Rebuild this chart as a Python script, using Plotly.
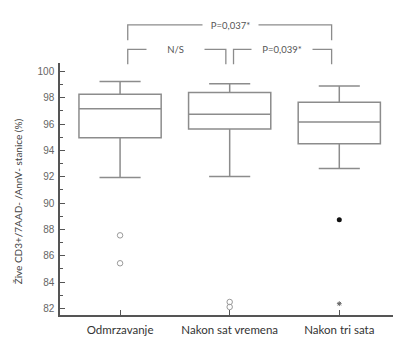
import plotly.graph_objects as go

categories = ["Odmrzavanje", "Nakon sat vremena", "Nakon tri sata"]
lower_whisker = [91.94, 92.01, 92.63]
q1 = [94.96, 95.63, 94.51]
median = [97.16, 96.74, 96.16]
q3 = [98.26, 98.39, 97.66]
upper_whisker = [99.23, 99.06, 98.89]

outlier_open_x = ["Odmrzavanje", "Odmrzavanje", "Nakon sat vremena", "Nakon sat vremena"]
outlier_open_y = [87.55, 85.43, 82.49, 82.11]
extreme_dot_x = ["Nakon tri sata"]
extreme_dot_y = [88.73]
extreme_star_x = ["Nakon tri sata"]
extreme_star_y = [82.36]

comparisons = [
    # (left idx, right idx, label)
    (0, 2, "P=0,037*"),
    (0, 1, "N/S"),
    (1, 2, "P=0,039*"),
]

Y_RANGE = [81.5, 100.64]
X_RANGE = [-0.548, 2.49]

BOX_COLOR = "#8c8c8c"
AXIS_COLOR = "#555555"

fig = go.Figure()
for i, c in enumerate(categories):
    fig.add_trace(go.Box(
        x=[c], q1=[q1[i]], median=[median[i]], q3=[q3[i]],
        lowerfence=[lower_whisker[i]], upperfence=[upper_whisker[i]],
        boxpoints=False, width=0.75, whiskerwidth=0.5,
        line=dict(color=BOX_COLOR, width=1.5), fillcolor="white",
        showlegend=False, hoverinfo="skip",
    ))

fig.add_trace(go.Scatter(
    x=outlier_open_x, y=outlier_open_y, mode="markers",
    marker=dict(symbol="circle-open", size=5.5, color="#9a9a9a", line=dict(width=1)),
    showlegend=False, cliponaxis=False,
))
fig.add_trace(go.Scatter(
    x=extreme_dot_x, y=extreme_dot_y, mode="markers",
    marker=dict(symbol="circle", size=5, color="#111111"),
    showlegend=False, cliponaxis=False,
))
fig.add_trace(go.Scatter(
    x=extreme_star_x, y=extreme_star_y, mode="markers",
    marker=dict(symbol="asterisk-open", size=4, color="#666666", line=dict(width=1)),
    showlegend=False, cliponaxis=False,
))


def to_paper(v):
    return (v - Y_RANGE[0]) / (Y_RANGE[1] - Y_RANGE[0])


# bracket geometry (data units on y)
levels = {
    (0, 2): (103.54, 102.36, 0.07, 1.93, 1.006, 53),
    (0, 1): (101.67, 100.54, 0.07, 0.965, 0.502, 55),
    (1, 2): (101.67, 100.54, 1.035, 1.93, 1.475, 58),
}

shapes = []
annotations = []
for a, b, label in comparisons:
    top, leg, x0, x1, xt, gap = levels[(a, b)]
    shapes.append(dict(
        type="path", xref="x", yref="paper",
        path=f"M {x0},{to_paper(leg)} L {x0},{to_paper(top)} L {x1},{to_paper(top)} L {x1},{to_paper(leg)}",
        line=dict(color="#8c8c8c", width=1.3),
    ))
    annotations.append(dict(
        x=xt, y=to_paper(top), xref="x", yref="paper", text=label, showarrow=False,
        font=dict(family="Lato, Arial", size=9.5, color="#555555"),
        bgcolor="white", width=gap, height=12, xanchor="center", yanchor="middle",
    ))

annotations.append(dict(
    x=(18 - 60) / (393 - 60), y=(318 - 203) / (318 - 63), xref="paper", yref="paper",
    text="Žive CD3+/7AAD- /AnnV- stanice (%)",
    showarrow=False, textangle=-90,
    font=dict(family="Lato, Arial", size=10, color="#444444"),
    xanchor="center", yanchor="middle",
))

fig.update_layout(
    width=395, height=338,
    margin=dict(l=60, r=2, t=63, b=20),
    paper_bgcolor="white", plot_bgcolor="white",
    shapes=shapes, annotations=annotations,
    xaxis=dict(
        type="category", range=X_RANGE, showline=True, linecolor=AXIS_COLOR, linewidth=1.5,
        ticks="inside", ticklen=5, tickcolor=AXIS_COLOR, tickwidth=1.2,
        showgrid=False, zeroline=False, ticklabelstandoff=3,
        tickfont=dict(family="Lato, Arial", size=11.5, color="#333333"),
    ),
    yaxis=dict(
        range=Y_RANGE, showline=True, linecolor=AXIS_COLOR, linewidth=1.5,
        tickvals=list(range(82, 101, 2)), ticks="inside", ticklen=5,
        tickcolor=AXIS_COLOR, tickwidth=1.2, ticklabelstandoff=2,
        minor=dict(dtick=1, tick0=81, ticks="inside", ticklen=3, tickcolor=AXIS_COLOR, showgrid=False),
        showgrid=False, zeroline=False,
        tickfont=dict(family="Liberation Sans, Arial", size=10, color="#666666"),
    ),
)

fig.write_html("out.html")
